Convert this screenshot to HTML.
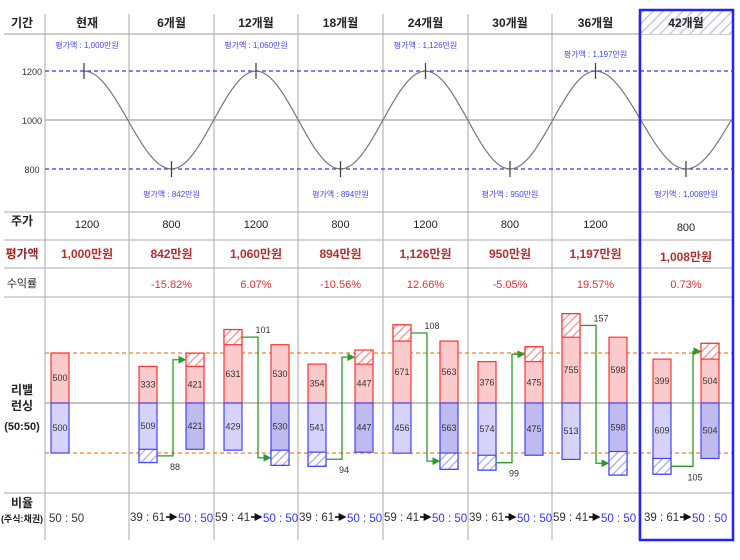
<!DOCTYPE html>
<html><head><meta charset="utf-8"><style>
body{margin:0;background:#fff}
svg text{font-family:"Liberation Sans","Noto Sans CJK KR","NanumGothic",sans-serif}
</style></head><body>
<svg id="c" width="740" height="555" viewBox="0 0 740 555" xmlns="http://www.w3.org/2000/svg">
<defs>
<pattern id="hb" width="6" height="6" patternUnits="userSpaceOnUse" patternTransform="rotate(45)"><rect width="6" height="6" fill="#fff"/><line x1="0" y1="0" x2="0" y2="6" stroke="#b8b4ee" stroke-width="3"/></pattern>
<pattern id="hr" width="6" height="6" patternUnits="userSpaceOnUse" patternTransform="rotate(45)"><rect width="6" height="6" fill="#fff"/><line x1="0" y1="0" x2="0" y2="6" stroke="#f4a0a0" stroke-width="3"/></pattern>
<pattern id="hh" width="7" height="7" patternUnits="userSpaceOnUse" patternTransform="rotate(45)"><rect width="7" height="7" fill="#fff"/><line x1="0" y1="0" x2="0" y2="7" stroke="#c8c6f0" stroke-width="3"/></pattern>
<marker id="ar" markerWidth="6" markerHeight="6" refX="5" refY="3" orient="auto"><path d="M0,0L6,3L0,6z" fill="#2a9a2a"/></marker>
<marker id="ab" markerWidth="5" markerHeight="5" refX="4" refY="2.5" orient="auto"><path d="M0,0L5,2.5L0,5z" fill="#111"/></marker>
</defs>
<g id="g"></g>
</svg>
<script>
const periods=['현재','6개월','12개월','18개월','24개월','30개월','36개월','42개월'];
const prices=[1200,800,1200,800,1200,800,1200,800];
const evalValues=[1000,842,1060,894,1126,950,1197,1008];
const evalLabels=['1,000만원','842만원','1,060만원','894만원','1,126만원','950만원','1,197만원','1,008만원'];
const returns=['','-15.82%','6.07%','-10.56%','12.66%','-5.05%','19.57%','0.73%'];
const stockBefore=[500,333,631,354,671,376,755,399];
const bondBefore=[500,509,429,541,456,574,513,609];
const afterValue=[500,421,530,447,563,475,598,504];
const transfer=[0,88,101,94,108,99,157,105];
const ratioBefore=['50 : 50','39 : 61','59 : 41','39 : 61','59 : 41','39 : 61','59 : 41','39 : 61'];
const priceTicks=[1200,1000,800];

const NS='http://www.w3.org/2000/svg';
const G=document.getElementById('g');
function el(tag,attrs,txt){const e=document.createElementNS(NS,tag);for(const k in attrs)e.setAttribute(k,attrs[k]);if(txt!==undefined)e.textContent=txt;G.appendChild(e);return e;}
const colL=[45,129,214,298,383,468,552,639];const colR=733;
function cx(i){const r=i<7?colL[i+1]:colR;return (colL[i]+r)/2;}
function py(v){return 120-(v-1000)*0.245;}
const C=403,K=0.11;

let e;
e=el('line',{x1:4,y1:34,x2:colR,y2:34,stroke:'#999'});
[212,240,268,297,493].forEach(y=>{e=el('line',{x1:4,y1:y,x2:colR,y2:y,stroke:'#aaa'});});
e=el('line',{x1:45,y1:120,x2:colR,y2:120,stroke:'#888'});
e=el('line',{x1:45,y1:C,x2:colR,y2:C,stroke:'#888'});
colL.forEach(x=>{e=el('line',{x1:x,y1:14,x2:x,y2:540,stroke:'#aaa'});});
e=el('rect',{x:641,y:11,width:91,height:23,fill:'url(#hh)'});
[1200,800].forEach(v=>{e=el('line',{x1:45,y1:py(v),x2:colR,y2:py(v),stroke:'#33f','stroke-dasharray':'4,3','stroke-width':1.2});});
[500,-500].forEach(v=>{e=el('line',{x1:45,y1:C-v*0.1,x2:colR,y2:C-v*0.1,stroke:'#f08030','stroke-dasharray':'4,3','stroke-width':1.2});});

function lbl(x,y,t,o){e=el('text',Object.assign({x:x,y:y,'text-anchor':'middle','font-size':12,'font-weight':'bold',fill:'#222'},o||{}),t);}
lbl(22,27,'기간');lbl(22,225,'주가');lbl(22,258,'평가액',{fill:'#a02020'});lbl(22,287,'수익률',{'font-weight':'normal','font-size':11});
lbl(22,394,'리밸');lbl(22,410,'런싱');lbl(22,430,'(50:50)',{'font-size':11});
lbl(22,507,'비율');lbl(22,522,'(주식:채권)',{'font-size':9});
priceTicks.forEach(v=>{e=el('text',{x:32,y:py(v)+4,'text-anchor':'middle','font-size':9,fill:'#333'},String(v));});

let d='';
for(let i=0;i<periods.length;i++){
  const x0=i===0?84:cx(i);
  if(i===0)d+='M'+x0+','+py(prices[0]);
  const last=i===periods.length-1;
  const x1=!last?cx(i+1):x0+(cx(i)-cx(i-1))/2;
  const half=!last?1:0.5;
  const amp=prices[i]-1000;
  for(let s=1;s<=20;s++){const t=s/20;const x=x0+(x1-x0)*t;const v=1000+amp*Math.cos(Math.PI*t*half);d+='L'+x.toFixed(1)+','+py(v).toFixed(1);}
}
e=el('path',{d:d,fill:'none',stroke:'#777','stroke-width':1.2});

for(let i=0;i<periods.length;i++){
  const x=cx(i),tx=i===0?84:x;
  e=el('text',{x:x,y:27,'text-anchor':'middle','font-size':12,'font-weight':'bold',fill:'#222'},periods[i]);
  e=el('line',{x1:tx,y1:py(prices[i])-8,x2:tx,y2:py(prices[i])+8,stroke:'#444','stroke-width':1.3});
  const up=prices[i]>1000;
  e=el('text',{x:x,y:up?(i===6?57:48):197,'text-anchor':'middle','font-size':8,fill:'#44f'},'평가액 : '+evalValues[i].toLocaleString('en-US')+'만원');
  e=el('text',{x:x,y:i===7?231:228,'text-anchor':'middle','font-size':11,fill:'#222'},String(prices[i]));
  e=el('text',{x:x,y:i===7?261:258,'text-anchor':'middle','font-size':12,'font-weight':'bold',fill:'#b03030'},evalLabels[i]);
  if(returns[i]){e=el('text',{x:x,y:288,'text-anchor':'middle','font-size':11,fill:'#e03030'},returns[i]);}

  if(i===0){e=el('text',{x:49,y:522,'font-size':11.5,fill:'#333'},ratioBefore[0]);}
  else{
    const l=colL[i]+(i===7?5:1);
    e=el('text',{x:l,y:521,'font-size':11.5,fill:'#333'},ratioBefore[i]);
    e=el('line',{x1:l+36,y1:517,x2:l+46,y2:517,stroke:'#111','stroke-width':1.6,'marker-end':'url(#ab)'});
    e=el('text',{x:l+48,y:522,'font-size':11.5,fill:'#33f'},'50 : 50');
  }

  const W=18;
  function bar(x,y,h,fill,stroke,name){e=el('rect',{x:x,y:y,width:W,height:h,fill:fill,stroke:stroke,'stroke-width':1.2});}
  function txt(x,y,t){e=el('text',{x:x+W/2,y:y+3,'text-anchor':'middle','font-size':9,fill:'#333'},String(t));}
  if(i===0){
    const bx=51,h0=50;
    bar(bx,C-h0,h0,'#fbcaca','#f33','stock-bar');txt(bx,C-h0/2,stockBefore[0]);
    bar(bx,C,h0,'#d6d2fa','#44f','bond-bar');txt(bx,C+h0/2,bondBefore[0]);
    continue;
  }
  const off=i===7?14:10,off2=i===7?62:57;
  const bx=colL[i]+off,ax=colL[i]+off2,vx=colL[i]+(i===7?54:44);
  const tr=transfer[i]*0.15;
  const sUp=stockBefore[i]>afterValue[i];
  const sT=C-stockBefore[i]*K-(sUp?tr-transfer[i]*K:0),bB=C+bondBefore[i]*K+(sUp?0:tr-transfer[i]*K);
  const aT=C-afterValue[i]*K-(sUp?0:tr-transfer[i]*K),aB=C+afterValue[i]*K+(sUp?tr-transfer[i]*K:0);
  bar(bx,sT,C-sT,'#fbcaca','#f33','stock-before-bar');
  bar(bx,C,bB-C,'#d6d2fa','#44f','bond-before-bar');
  bar(ax,aT,C-aT,'#fbcaca','#f33','stock-after-bar');
  bar(ax,C,aB-C,'#bfbaf0','#44f','bond-after-bar');
  let sy,ey;
  if(sUp){
    bar(bx,sT,tr,'url(#hr)','#f33','stock-sell-hatch');
    bar(ax,aB-tr,tr,'url(#hb)','#44f','bond-buy-hatch');
    txt(bx,(sT+tr+C)/2,stockBefore[i]);txt(bx,(C+bB)/2,bondBefore[i]);
    txt(ax,(C+aT)/2,afterValue[i]);txt(ax,(C+aB-tr)/2,afterValue[i]);
    sy=sT+tr/2;ey=aB-tr/2;
    e=el('text',{x:vx+5,y:sy-4,'text-anchor':'middle','font-size':9,fill:'#333'},String(transfer[i]));
  }else{
    bar(bx,bB-tr,tr,'url(#hb)','#44f','bond-sell-hatch');
    bar(ax,aT,tr,'url(#hr)','#f33','stock-buy-hatch');
    txt(bx,(C+sT)/2,stockBefore[i]);txt(bx,(C+bB-tr)/2,bondBefore[i]);
    txt(ax,(aT+tr+C)/2,afterValue[i]);txt(ax,(C+aB)/2,afterValue[i]);
    sy=bB-tr/2;ey=aT+tr/2;
    e=el('text',{x:vx+2,y:sy+14,'text-anchor':'middle','font-size':9,fill:'#333'},String(transfer[i]));
  }
  e=el('path',{d:'M'+(bx+W)+','+sy+'H'+vx+'V'+ey+'H'+(ax-1),fill:'none',stroke:'#2a9a2a','stroke-width':1.3,'marker-end':'url(#ar)'});
}
e=el('rect',{x:640,y:10,width:93,height:530,fill:'none',stroke:'#22f','stroke-width':2.5});
</script>
</body></html>
